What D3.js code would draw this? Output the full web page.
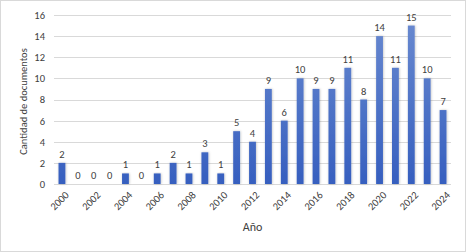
<!DOCTYPE html>
<html>
<head>
<meta charset="utf-8">
<script src="https://cdn.jsdelivr.net/npm/d3@7"></script>
<style>
  body { margin: 0; background: #fff; }
  svg text { font-family: Carlito, Calibri, "Liberation Sans", sans-serif; fill: #404040; }
</style>
</head>
<body>
<div id="chart"></div>
<script>
// years and document counts
const years = ['2000','2001','2002','2003','2004','2005','2006','2007','2008','2009','2010','2011','2012',
  '2013','2014','2015','2016','2017','2018','2019','2020','2021','2022','2023','2024'];
const counts = [2, 0, 0, 0, 1, 0, 1, 2, 1, 3, 1, 5, 4, 9, 6, 10, 9, 9, 11, 8, 14, 11, 15, 10, 7];
const yTicks = [0, 2, 4, 6, 8, 10, 12, 14, 16];

const width = 466, height = 252;
const margin = { top: 15, right: 15, bottom: 68, left: 54 };
const innerW = width - margin.left - margin.right;
const innerH = height - margin.top - margin.bottom;
const fontFam = 'Carlito, Calibri, "Liberation Sans", sans-serif';

const svg = d3.select('#chart').append('svg')
  .attr('width', width)
  .attr('height', height);

// outer chart border
svg.append('rect')
  .attr('x', 0.5).attr('y', 0.5)
  .attr('width', width - 1).attr('height', height - 1)
  .attr('fill', '#fff')
  .attr('stroke', '#d9d9d9');

const defs = svg.append('defs');
const grad = defs.append('linearGradient')
  .attr('id', 'barGrad')
  .attr('gradientUnits', 'userSpaceOnUse')
  .attr('x1', 0).attr('x2', 0)
  .attr('y1', 0).attr('y2', innerH);
grad.append('stop').attr('offset', '0%').attr('stop-color', '#6a8ad0');
grad.append('stop').attr('offset', '100%').attr('stop-color', '#365fbf');

const shadow = defs.append('filter').attr('id', 'shadow')
  .attr('x', '-50%').attr('y', '-10%').attr('width', '200%').attr('height', '120%');
shadow.append('feDropShadow')
  .attr('dx', 0.5).attr('dy', 0).attr('stdDeviation', 1)
  .attr('flood-color', '#000').attr('flood-opacity', 0.25);

const g = svg.append('g')
  .attr('transform', `translate(${margin.left}, ${margin.top})`);

const x = d3.scaleBand()
  .domain(years)
  .range([0, innerW])
  .paddingInner(0.57)
  .paddingOuter(0.285);

const y = d3.scaleLinear()
  .domain([0, 16])
  .range([innerH, 0]);

// gridlines
g.append('g')
  .selectAll('line')
  .data(yTicks)
  .join('line')
    .attr('x1', 0).attr('x2', innerW)
    .attr('y1', d => Math.round(y(d)) + 0.5)
    .attr('y2', d => Math.round(y(d)) + 0.5)
    .attr('stroke', '#d9d9d9')
    .attr('stroke-width', 1);

// y axis labels
const yAxis = d3.axisLeft(y).tickValues(yTicks).tickSize(0).tickPadding(9);
g.append('g')
  .call(yAxis)
  .call(s => s.select('.domain').remove())
  .selectAll('text')
    .style('font-size', '10.5px')
    .style('font-family', fontFam)
    .attr('fill', '#404040');

// bars
g.append('g')
  .selectAll('rect')
  .data(counts)
  .join('rect')
    .attr('x', (d, i) => x(years[i]))
    .attr('width', x.bandwidth())
    .attr('y', d => y(d))
    .attr('height', d => innerH - y(d))
    .attr('fill', 'url(#barGrad)')
    .attr('filter', 'url(#shadow)');

// data labels
g.append('g')
  .selectAll('text')
  .data(counts)
  .join('text')
    .attr('x', (d, i) => x(years[i]) + x.bandwidth() / 2)
    .attr('y', d => y(d) - 5)
    .attr('text-anchor', 'middle')
    .style('font-size', '10.5px')
    .text(d => d);

// x axis labels (every second year)
const xAxis = d3.axisBottom(x)
  .tickValues(years.filter((d, i) => i % 2 === 0))
  .tickSize(0)
  .tickPadding(0);
g.append('g')
  .attr('transform', `translate(0, ${innerH})`)
  .call(xAxis)
  .call(s => s.select('.domain').remove())
  .selectAll('text')
    .style('font-size', '10.5px')
    .style('font-family', fontFam)
    .attr('fill', '#404040')
    .attr('text-anchor', 'end')
    .attr('dy', '0.35em')
    .attr('transform', 'translate(5, 9) rotate(-45)');

// axis titles
svg.append('text')
  .attr('x', margin.left + innerW / 2)
  .attr('y', 231)
  .attr('text-anchor', 'middle')
  .style('font-size', '12px')
  .text('Año');

svg.append('text')
  .attr('transform', `translate(27, ${margin.top + innerH / 2 + 2}) rotate(-90)`)
  .attr('text-anchor', 'middle')
  .style('font-size', '10.5px')
  .text('Cantidad de documentos');
</script>
</body>
</html>
